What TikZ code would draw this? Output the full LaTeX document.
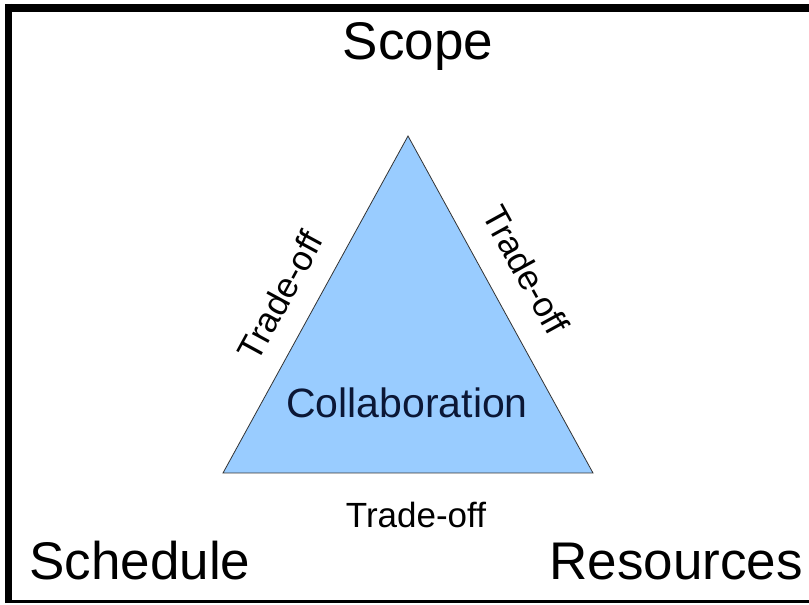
\documentclass[tikz,border=0pt]{standalone}
\usepackage{fontspec}
\setmainfont{Liberation Sans}
\usepackage{xcolor}
\usepackage{tikz}

\definecolor{triblue}{HTML}{99CCFF}
\definecolor{navytext}{HTML}{0B1736}

\begin{document}
\begin{tikzpicture}[x=1pt, y=1pt,
    corner/.style={font=\fontsize{53}{60}\selectfont, anchor=base},
    tradeoff/.style={font=\fontsize{35}{40}\selectfont}]
                \useasboundingbox (0,0) rectangle (809,605);
                \fill[white] (0,0) rectangle (809,605);

                % Frame (open on the right)
                \draw[line width=8pt] (8.5,597) -- (809,597);
                \draw[line width=7pt] (8.5,601) -- (8.5,2);
                \draw[line width=3pt] (5,3) -- (809,3);

                % Triangle
                \coordinate (top) at (408,469);
                \coordinate (bl) at (223,132);
                \coordinate (br) at (593,132);
                \filldraw[fill=triblue, draw=black!80, line width=0.8pt] (bl) -- (top) -- (br) -- cycle;

                \node[font=\fontsize{41}{46}\selectfont, text=navytext, anchor=base] (collab) at (407,187) {Collaboration};

                % Trade-off along each side
                \node[tradeoff, rotate=61.5] (offleft) at (280,309) {Trade-off};
                \node[tradeoff, rotate=-61.2] (offright) at (526,335) {Trade-off};
                \node[tradeoff, anchor=base] (offbottom) at (416,77) {Trade-off};

                % Corners
                \node[corner] (scope) at (418,545) {Scope};
                \node[corner] (schedule) at (140,25) {Schedule};
                \node[corner] (resources) at (676,25) {Resources};
            \end{tikzpicture}
\end{document}
